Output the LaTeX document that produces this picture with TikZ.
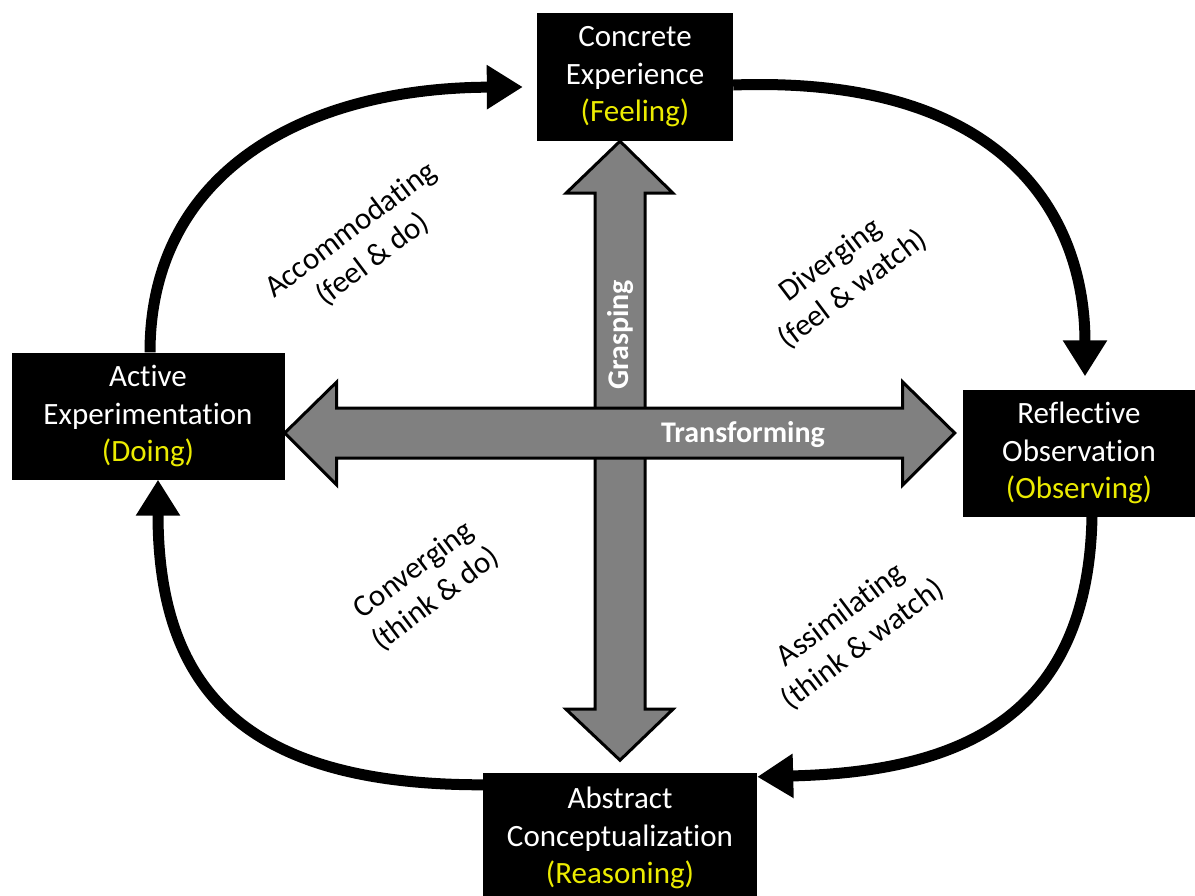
\documentclass[tikz,border=0pt]{standalone}
\usepackage{fontspec}
\setmainfont{Carlito}[Ligatures=NoCommon]
\usetikzlibrary{calc,arrows.meta}
\definecolor{subyellow}{RGB}{235,235,0}
\tikzset{
	stage/.style={fill=black, text=white, inner sep=0pt, align=center, font=\fontsize{31}{37.5}\selectfont},
	cycarrow/.style={line width=11pt, -{Triangle[length=36pt,width=42pt]}},
	bigarrow/.style={draw=black, fill=black!50, line width=3pt, line join=miter},
	style/.style={align=center, rotate=37, font=\fontsize{31}{37}\selectfont},
	axis/.style={text=white, font=\bfseries\fontsize{30}{36}\selectfont}
}

\begin{document}
\begin{tikzpicture}[x=1pt, y=-1pt]
		%%%%% START %%%%%
		\useasboundingbox (0,0) rectangle (1195,895);
		
		\node[stage, minimum width=196, minimum height=128] (ce) at (635,77) {Concrete\\Experience\\\textcolor{subyellow}{(Feeling)}};
		\node[stage, minimum width=273, minimum height=127] (ae) at (148,416) {Active\\Experimentation\\\textcolor{subyellow}{(Doing)}};
		\node[stage, minimum width=232, minimum height=127] (ro) at (1079,453) {Reflective\\Observation\\\textcolor{subyellow}{(Observing)}};
		\node[stage, minimum width=274, minimum height=130] (ac) at (620,838) {Abstract\\Conceptualization\\\textcolor{subyellow}{(Reasoning)}};
		
		\coordinate (hub) at (620,433);
		
		\draw[bigarrow] (ce.south -| hub) -- ++(53,52) -- ++(-28,0) -- ++(0,516) -- ++(28,0) -- ++(-53,51) -- ++(-54,-51) -- ++(29,0) -- ++(0,-516) -- ++(-29,0) -- cycle;
		\node[axis, rotate=90] (grasp) at (621,335) {Grasping};
		
		\draw[bigarrow] (ae.east |- hub) -- ++(52,-51) -- ++(0,26) -- ++(566,0) -- ++(0,-26) -- ++(52,51) -- ++(-52,52) -- ++(0,-27) -- ++(-566,0) -- ++(0,27) -- cycle;
		\node[axis] (transf) at (743,435) {Transforming};
		
		\draw[cycarrow] ([yshift=-8pt]ce.east) .. controls (1010,75) and (1085,220) .. ([xshift=6pt,yshift=13pt]ro.north);
		\draw[cycarrow] ([xshift=13pt]ro.south) .. controls (1088,725) and (950,772) .. ([yshift=-4pt]ac.north east);
		\draw[cycarrow] ([yshift=-12pt]ac.north west) .. controls (245,785) and (158,690) .. ([xshift=10pt]ae.south);
		\draw[cycarrow] ([xshift=2pt]ae.north) .. controls (150,175) and (300,88) .. ([xshift=-14pt,yshift=-10pt]ce.west);
		
		\node[style] (accom) at (362,245) {Accommodating\\(feel \& do)};
		\node[style] (diver) at (842,275) {Diverging\\(feel \& watch)};
		\node[style] (conve) at (425,585) {Converging\\(think \& do)};
		\node[style] (assim) at (852,630) {Assimilating\\(think \& watch)};
		
		%%%%% END %%%%%
\end{tikzpicture}
\end{document}
